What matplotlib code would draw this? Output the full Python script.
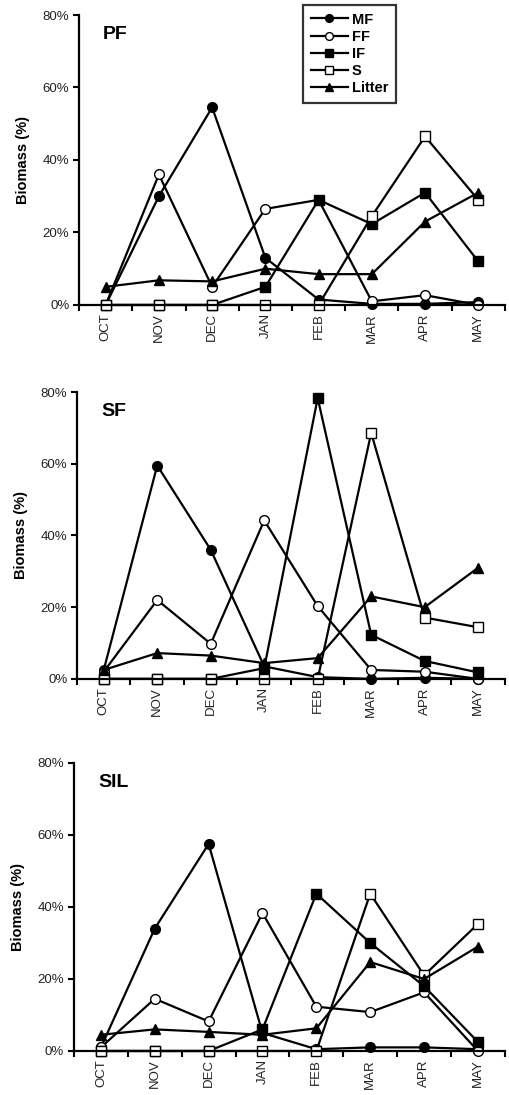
import matplotlib
matplotlib.use("Agg")
import matplotlib.pyplot as plt
from matplotlib.ticker import FixedLocator, FuncFormatter

plt.rcParams['font.family'] = ['Liberation Sans', 'DejaVu Sans']

months = ['OCT', 'NOV', 'DEC', 'JAN', 'FEB', 'MAR', 'APR', 'MAY']
y_ticks = [0, 20, 40, 60, 80]

# PF
pf_mf = [0, 30, 54.5, 13, 1.5, 0.3, 0.3, 0.8]
pf_ff = [0, 36, 5, 26.5, 29, 1, 2.7, 0]
pf_if = [0, 0, 0, 5, 29, 22.3, 31, 12]
pf_s = [0, 0, 0, 0, 0, 24.5, 46.5, 29]
pf_litter = [5, 6.8, 6.5, 10, 8.5, 8.5, 23, 31]

# SF
sf_mf = [2.5, 59.5, 36, 3.5, 0.5, 0, 0.3, 0]
sf_ff = [2, 22, 9.8, 44.2, 20.3, 2.5, 2, 0]
sf_if = [0, 0, 0, 3, 78.3, 12.3, 5, 1.8]
sf_s = [0, 0, 0, 0, 0, 68.6, 17.1, 14.4]
sf_litter = [2.5, 7.2, 6.5, 4.4, 5.8, 23, 20, 31]

# SIL
sil_mf = [1, 34, 57.5, 5, 0.5, 1, 1, 0.5]
sil_ff = [1, 14.5, 8.2, 38.3, 12.3, 10.8, 16.3, 0]
sil_if = [0, 0, 0, 6, 43.7, 30, 18, 2.5]
sil_s = [0, 0, 0, 0, 0, 43.7, 21, 35.3]
sil_litter = [4.5, 6, 5.3, 4.5, 6.3, 24.7, 20, 29]

panels = [
    ('PF', pf_mf, pf_ff, pf_if, pf_s, pf_litter),
    ('SF', sf_mf, sf_ff, sf_if, sf_s, sf_litter),
    ('SIL', sil_mf, sil_ff, sil_if, sil_s, sil_litter),
]

# axes boxes in figure fraction
boxes = [
    [0.155, 0.7215, 0.835, 0.2648],
    [0.151, 0.380, 0.839, 0.262],
    [0.145, 0.0402, 0.845, 0.263],
]

styles = [
    ('MF', 'o', 'black', 7),
    ('FF', 'o', 'white', 7),
    ('IF', 's', 'black', 7.5),
    ('S', 's', 'white', 7.5),
    ('Litter', '^', 'black', 7),
]

fig = plt.figure(figsize=(5.1, 10.95), dpi=100)
x = list(range(len(months)))

for i, (name, mf, ff, if_, s, lit) in enumerate(panels):
    ax = fig.add_axes(boxes[i])
    series = [mf, ff, if_, s, lit]
    for (lab, mk, fc, ms), vals in zip(styles, series):
        ax.plot(x, vals, '-', color='black', lw=1.6, marker=mk, markersize=ms,
                markerfacecolor=fc, markeredgecolor='black', markeredgewidth=1.0,
                label=lab, clip_on=False)
    ax.set_xlim(-0.5, len(months) - 0.5)
    ax.set_ylim(0, 80)
    ax.spines['top'].set_visible(False)
    ax.spines['right'].set_visible(False)
    ax.spines['left'].set_linewidth(1.6)
    ax.spines['bottom'].set_linewidth(1.6)
    ax.set_yticks(y_ticks)
    ax.yaxis.set_major_formatter(FuncFormatter(lambda v, p: '%d%%' % v))
    ax.set_xticks(x)
    ax.set_xticklabels(months, rotation=90)
    ax.xaxis.set_minor_locator(FixedLocator([k - 0.5 for k in range(len(months) + 1)]))
    ax.tick_params(axis='x', which='major', length=0, pad=6, labelsize=9.5)
    ax.tick_params(axis='x', which='minor', length=4, width=1.5, direction='out')
    ax.tick_params(axis='y', length=4, width=1.5, direction='out', labelsize=9.5, pad=3)
    for tl in ax.get_yticklabels() + ax.get_xticklabels():
        tl.set_color('#222222')
    ax.set_ylabel('Biomass (%)', fontsize=10.5, fontweight='bold', labelpad=9)
    ax.text(0.056, 0.962, name, transform=ax.transAxes, fontsize=14, fontweight='bold',
            va='top', ha='left')
    if i == 0:
        leg = ax.legend(loc='upper left', bbox_to_anchor=(0.526, 1.036), fancybox=False,
                        edgecolor='black', handlelength=2.5, handletextpad=0.3,
                        labelspacing=0.22, borderpad=0.55, borderaxespad=0,
                        prop={'weight': 'bold', 'size': 10.5}, markerscale=0.8)
        leg.get_frame().set_linewidth(1.6)
        leg.set_zorder(10)

fig.savefig('out.png', dpi=100)
